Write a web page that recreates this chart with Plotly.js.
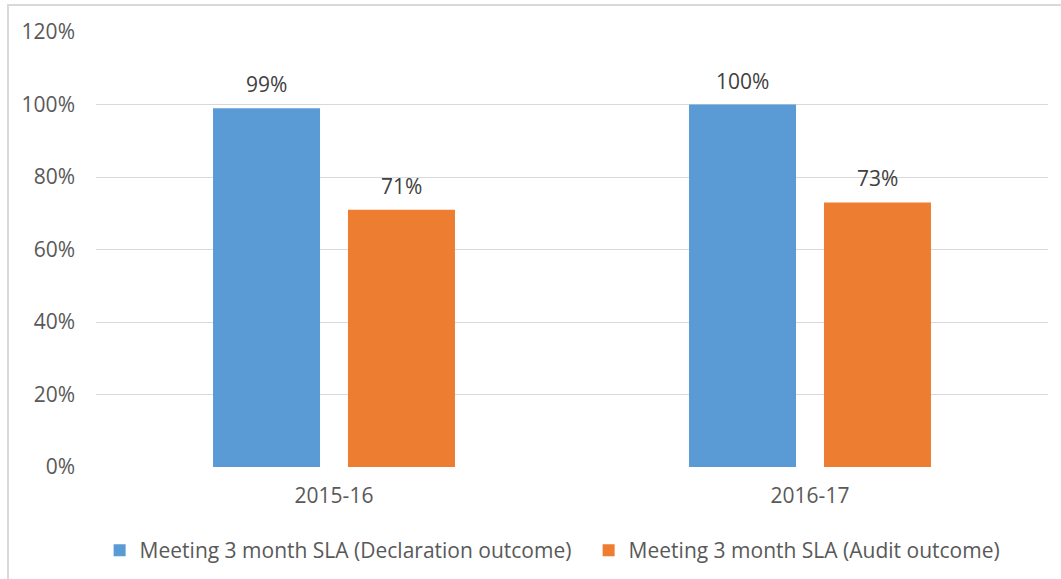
<!DOCTYPE html>
<html>
<head>
<meta charset="utf-8">
<script src="https://cdn.plot.ly/plotly-3.0.1.min.js"></script>
<style>
  html, body { margin: 0; padding: 0; background: #fff; overflow: hidden; }
  #wrap { position: relative; width: 1061px; height: 579px; overflow: hidden; }
  #frame { position: absolute; left: 7px; top: 4px; width: 1200px; height: 800px; border: 2px solid #d9d9d9; box-sizing: border-box; pointer-events: none; }
  #chart { position: absolute; left: 0; top: 0; width: 1061px; height: 579px; }
</style>
</head>
<body>
<div id="wrap">
  <div id="chart"></div>
  <div id="frame"></div>
</div>
<script>
const categories = ["2015-16", "2016-17"];
const seriesNames = ["Meeting 3 month SLA (Declaration outcome)", "Meeting 3 month SLA (Audit outcome)"];
const declarationValues = [0.99, 1.00];
const auditValues = [0.71, 0.73];
const yTickValues = [0, 0.2, 0.4, 0.6, 0.8, 1.0, 1.2];

const FONT = "'Open Sans', Lato, sans-serif";
const FS = 21;
const colors = ["#5B9BD5", "#ED7D31"];

const traces = [
  { type: "bar", name: seriesNames[0], x: categories, y: declarationValues,
    marker: { color: colors[0] }, hoverinfo: "skip", legendwidth: 444 },
  { type: "bar", name: seriesNames[1], x: categories, y: auditValues,
    marker: { color: colors[1] }, hoverinfo: "skip" }
];

const slotShift = 67.5;
const annotations = [];
[declarationValues, auditValues].forEach((vals, si) => {
  vals.forEach((v, i) => {
    annotations.push({
      x: categories[i], y: v, xref: "x", yref: "y",
      text: Math.round(v * 100) + "%",
      showarrow: false, yanchor: "bottom", xanchor: "center",
      xshift: si === 0 ? -slotShift : slotShift, yshift: 8,
      font: { family: FONT, size: FS, color: "#404040" }
    });
  });
});

const layout = {
  width: 1061, height: 579,
  margin: { l: 96, r: 13, t: 32, b: 112, pad: 0, autoexpand: false },
  paper_bgcolor: "rgba(0,0,0,0)", plot_bgcolor: "rgba(0,0,0,0)",
  font: { family: FONT, size: FS, color: "#595959" },
  barmode: "group", bargap: 0.433, bargroupgap: 0.207,
  showlegend: true,
  legend: { orientation: "h", x: 0.0038, xanchor: "left", y: -0.145, yanchor: "top",
    font: { family: FONT, size: FS, color: "#595959" }, bgcolor: "rgba(0,0,0,0)",
    traceorder: "normal" },
  xaxis: { type: "category", showgrid: false, zeroline: false, showline: false, automargin: false,
    ticks: "", ticklabelstandoff: 14, tickfont: { family: FONT, size: FS, color: "#595959" } },
  yaxis: { range: [0, 1.2], tickvals: yTickValues, tickformat: ".0%", automargin: false,
    showgrid: true, gridcolor: "#d9d9d9", gridwidth: 1, zeroline: false, showline: false,
    ticks: "", ticklabelstandoff: 20, tickfont: { family: FONT, size: FS, color: "#595959" } },
  annotations: annotations
};

Plotly.newPlot("chart", traces, layout, { displayModeBar: false, staticPlot: true });
</script>
</body>
</html>
